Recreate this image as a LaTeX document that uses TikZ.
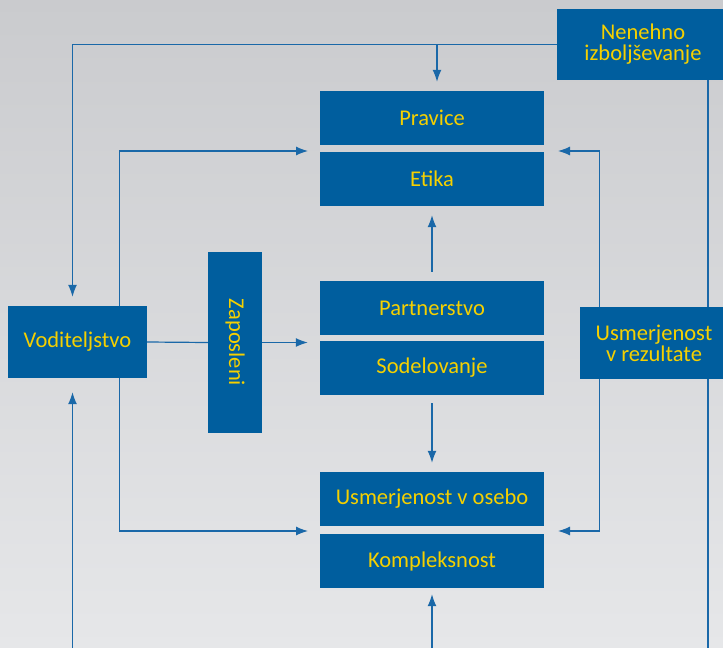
\documentclass[tikz,border=0pt]{standalone}
\usepackage{fontspec}
\setmainfont{Carlito}
\usetikzlibrary{arrows.meta,calc}

\definecolor{boxblue}{RGB}{0,94,158}
\definecolor{lineblue}{RGB}{26,104,168}
\definecolor{txtyellow}{RGB}{245,208,0}
\definecolor{bgtop}{RGB}{202,203,206}
\definecolor{bgbot}{RGB}{230,231,233}

\begin{document}
\begin{tikzpicture}[x=1pt,y=-1pt,
		blok/.style={fill=boxblue,text=txtyellow,inner sep=0pt,align=center,
			font=\fontsize{22.5}{21}\selectfont},
		vez/.style={draw=lineblue,line width=1.2pt},
		puscica/.style={vez,-{Latex[length=12pt,width=9pt]},shorten >=9pt}]
		
		\useasboundingbox (0,0) rectangle (723,648);
		\shade[top color=bgtop,bottom color=bgbot] (0,0) rectangle (723,648);
		\clip (0,0) rectangle (723,648);
		
		% bloki
		\node[blok,minimum width=172pt,minimum height=71pt] (nenehno) at (643,44.5) {Nenehno\\izboljševanje};
		\node[blok,minimum width=224pt,minimum height=54pt] (pravice) at (432,118) {Pravice};
		\node[blok,minimum width=224pt,minimum height=54pt] (etika) at (432,179) {Etika};
		\node[blok,minimum width=224pt,minimum height=54pt] (partnerstvo) at (432,308) {Partnerstvo};
		\node[blok,minimum width=224pt,minimum height=54pt] (sodelovanje) at (432,368) {Sodelovanje};
		\node[blok,minimum width=224pt,minimum height=54pt] (osebo) at (432,499) {Usmerjenost v osebo};
		\node[blok,minimum width=224pt,minimum height=54pt] (kompleksnost) at (432,561) {Kompleksnost};
		\node[blok,minimum width=139pt,minimum height=72pt] (voditeljstvo) at (77.5,342) {Voditeljstvo};
		\node[blok,minimum width=54pt,minimum height=181pt] (zaposleni) at (235,342.5) {\rotatebox{-90}{Zaposleni}};
		\node[blok,minimum width=148pt,minimum height=72pt] (rezultati) at (654,343) {Usmerjenost\\v rezultate};
		
		% tocke
		\coordinate (levo) at (72.5,0);
		\coordinate (desno) at (708,0);
		\coordinate (dno) at (0,648);
		\coordinate (odcep) at (437,44);
		\coordinate (vhod1) at (320,151);
		\coordinate (vhod2) at (320,531);
		\coordinate (vhod3) at (544,151);
		\coordinate (vhod4) at (544,531);
		
		% povezave
		\draw[puscica] (nenehno.west) -| (levo |- voditeljstvo.north);
		\draw[puscica] (odcep) -- (odcep |- pravice.north);
		\draw[puscica,shorten >=12pt] ($(voditeljstvo.north east)+(-28,0)$) |- (vhod1);
		\draw[puscica,shorten >=12pt] ($(voditeljstvo.south east)+(-28,0)$) |- (vhod2);
		\draw[puscica,shorten >=14pt] ($(rezultati.north west)+(20,0)$) |- (vhod3);
		\draw[puscica,shorten >=14pt] ($(rezultati.south west)+(20,0)$) |- (vhod4);
		\draw[vez] (voditeljstvo.east) -- (zaposleni.west);
		\draw[puscica,shorten >=12pt] (zaposleni.east) -- (zaposleni.east -| partnerstvo.west);
		\draw[puscica,shorten <=9pt] (partnerstvo.north) -- (etika.south);
		\draw[puscica,shorten <=8pt] (sodelovanje.south) -- (osebo.north);
		\draw[puscica,shorten >=6pt] (kompleksnost.south |- dno) -- (kompleksnost.south);
		\draw[puscica,shorten >=14pt] (levo |- dno) -- (levo |- voditeljstvo.south);
		\draw[vez] (desno |- nenehno.south) -- (desno |- rezultati.north);
		\draw[vez] (desno |- rezultati.south) -- (desno |- dno);
\end{tikzpicture}
\end{document}
